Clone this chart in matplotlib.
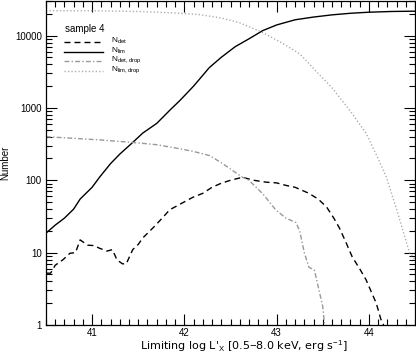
import matplotlib
matplotlib.use("Agg")
import matplotlib.pyplot as plt
from matplotlib.lines import Line2D
from matplotlib.ticker import MultipleLocator, LogLocator, NullFormatter, FixedLocator, FixedFormatter

plt.rcParams['font.family'] = ['Liberation Sans', 'DejaVu Sans']
plt.rcParams['mathtext.fontset'] = 'custom'
plt.rcParams['mathtext.rm'] = 'Liberation Sans'

# N_det (dashed black)
x_det = [40.51, 40.55, 40.6, 40.68, 40.76, 40.82, 40.87, 40.95, 41.02, 41.08, 41.16, 41.22, 41.27, 41.33,
         41.37, 41.44, 41.5, 41.55, 41.66, 41.76, 41.84, 41.97, 42.09, 42.2, 42.3, 42.4, 42.5, 42.63,
         42.75, 42.89, 43.0, 43.1, 43.2, 43.35, 43.45, 43.54, 43.62, 43.68, 43.75, 43.82, 43.9, 43.97,
         44.03, 44.08, 44.13, 44.16]
y_det = [5.2, 5.2, 6.7, 7.9, 9.8, 10.0, 15, 12.7, 12.5, 11.5, 10.5, 11, 7.9, 7.0,
         7.0, 11.0, 13, 16, 22, 30, 39, 48, 58, 66, 80, 91, 100, 110,
         100, 94, 92, 85, 80, 66, 55, 43, 30, 22, 14, 8.7, 6, 4.2,
         2.8, 2.0, 1.2, 1.0]

# N_lim (solid black)
x_lim = [40.5, 40.6, 40.7, 40.8, 40.87, 41.0, 41.08, 41.2, 41.3, 41.44, 41.55, 41.7, 41.85, 41.95,
         42.1, 42.27, 42.4, 42.55, 42.7, 42.85, 43.0, 43.2, 43.4, 43.6, 43.8, 44.0, 44.25, 44.5]
y_lim = [18.6, 24, 30, 40, 55, 80, 110, 170, 230, 333, 450, 610, 950, 1260,
         2000, 3600, 5000, 7000, 9000, 11700, 14000, 16500, 18000, 19300, 20300, 21000, 21500, 21700]

# N_det,drop (dash-dot gray)
x_ddrop = [40.5, 40.8, 41.1, 41.44, 41.7, 41.9, 42.1, 42.27, 42.4, 42.52, 42.63, 42.7, 42.85, 42.99,
           43.1, 43.21, 43.25, 43.3, 43.35, 43.41, 43.46, 43.5, 43.52]
y_ddrop = [400, 380, 360, 333, 310, 280, 250, 220, 175, 137, 110, 100, 65, 39,
           30, 26, 20, 10, 6.3, 5.7, 3.0, 1.8, 1.0]

# N_lim,drop (dotted gray)
x_ldrop = [40.5, 41.0, 41.5, 41.9, 42.16, 42.4, 42.6, 42.85, 43.05, 43.25, 43.45, 43.6, 43.8, 43.97,
           44.1, 44.19, 44.3, 44.37, 44.44, 44.5]
y_ldrop = [22000, 22000, 21500, 20500, 19500, 17500, 15000, 11000, 8000, 5600, 3000, 1900, 900, 445,
           200, 110, 40, 20, 10, 8]

labels = [r'N$_{\rm det}$', r'N$_{\rm lim}$', r'N$_{\rm det,drop}$', r'N$_{\rm lim,drop}$']
xticks = [41, 42, 43, 44]
yticks = [1, 10, 100, 1000, 10000]
ytick_labels = ['1', '10', '100', '1000', '10000']

fig = plt.figure(figsize=(4.16, 3.53), dpi=100)
ax = fig.add_axes([46/416, 28/353, 369/416, 324/353])

styles = [dict(color='black', lw=1.0, ls=(0, (4.3, 2.9))),
          dict(color='black', lw=1.0, ls='-'),
          dict(color='#999999', lw=1.0, ls=(0, (3.5, 1.6, 1.0, 1.6))),
          dict(color='#a8a8a8', lw=1.0, ls=(0, (0.9, 1.6)))]
series = [(x_det, y_det), (x_lim, y_lim), (x_ddrop, y_ddrop), (x_ldrop, y_ldrop)]
for (xs, ys), st, lab in zip(series, styles, labels):
    ax.plot(xs, ys, label=lab, **st)

ax.set_yscale('log')
ax.set_xlim(40.5, 44.5)
ax.set_ylim(1, 30000)

ax.xaxis.set_major_locator(FixedLocator(xticks))
ax.xaxis.set_minor_locator(MultipleLocator(0.1))
ax.yaxis.set_major_locator(FixedLocator(yticks))
ax.yaxis.set_major_formatter(FixedFormatter(ytick_labels))
ax.yaxis.set_minor_locator(LogLocator(base=10, subs=range(2, 10)))
ax.yaxis.set_minor_formatter(NullFormatter())

ax.tick_params(which='both', direction='in', top=True, right=True, labelsize=7, width=0.8)
ax.tick_params(which='major', length=8)
ax.tick_params(which='minor', length=4)
ax.tick_params(axis='x', which='major', pad=2)
ax.tick_params(axis='y', which='major', pad=3)
for s in ax.spines.values():
    s.set_linewidth(0.9)

ax.set_xlabel(r"Limiting log L'$_{\rm X}$ [0.5$-$8.0 keV, erg s$^{-1}$]", fontsize=8,
              family=['DejaVu Sans'])
ax.xaxis.set_label_coords(0.537, -0.066)
ax.xaxis.label.set_verticalalignment('center')
ax.set_ylabel("Number", fontsize=7)
ax.yaxis.set_label_coords(-0.097, 0.5)

# legend (manual, axes coordinates)
ax.text(0.0515, 0.9136, 'sample 4', transform=ax.transAxes, fontsize=7, va='center', ha='left')
row_y = [0.874, 0.844, 0.814, 0.783]
for yy, st, lab in zip(row_y, styles, labels):
    ax.add_line(Line2D([0.0488, 0.1545], [yy, yy], transform=ax.transAxes, **st))
    ax.text(0.1775, yy + 0.002, lab, transform=ax.transAxes, fontsize=6, va='center', ha='left')

fig.savefig('out.png', dpi=100)
